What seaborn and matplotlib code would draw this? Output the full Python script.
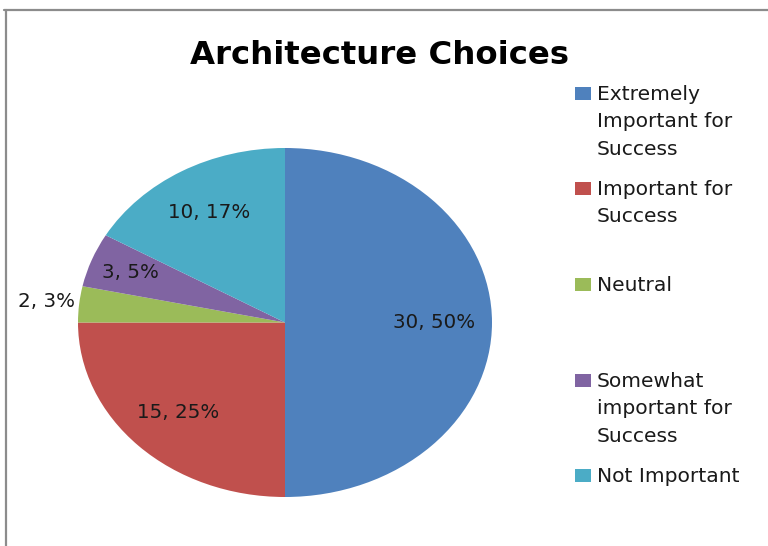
import numpy as np
import matplotlib
matplotlib.use("Agg")
import matplotlib.pyplot as plt
from matplotlib.lines import Line2D
from matplotlib.patches import Rectangle
import seaborn as sns

# Survey responses on architecture choices
categories = [
    "Extremely\nImportant for\nSuccess",
    "Important for\nSuccess",
    "Neutral",
    "Somewhat\nimportant for\nSuccess",
    "Not Important",
]
counts = [30, 15, 2, 3, 10]
colors = ["#4F81BD", "#C0504D", "#9BBB59", "#8064A2", "#4BACC6"]
# radial position of each value label (fraction of radius)
label_dist = [0.72, 0.73, 1.16, 0.80, 0.73]
# baseline of the first line of each legend entry, pixels from the top
legend_base = [100, 195, 291, 387, 482]

sns.set_theme(style="white")
plt.rcParams["font.family"] = ["DejaVu Sans"]

W, H = 768, 546
fig = plt.figure(figsize=(W / 100, H / 100), dpi=100)
fig.patch.set_facecolor("white")


def fy(px):
    """Convert a pixel row (from the top) to figure coordinates."""
    return 1 - px / H


# pie fills an ellipse: left 78, right 492, top 148, bottom 497 (pixels)
ax = fig.add_axes([78 / W, (H - 497) / H, 414 / W, 349 / H])
total = sum(counts)
wedges, _ = ax.pie(
    counts,
    colors=colors,
    startangle=90,
    counterclock=False,
    radius=1.0,
    wedgeprops=dict(linewidth=0),
)
ax.set_aspect("auto")
ax.set_xlim(-1, 1)
ax.set_ylim(-1, 1)
ax.axis("off")

for w, n, d in zip(wedges, counts, label_dist):
    mid = np.deg2rad((w.theta1 + w.theta2) / 2)
    pct = round(100 * n / total)
    ax.text(d * np.cos(mid), d * np.sin(mid), f"{n}, {pct}%",
            ha="center", va="center", fontsize=14.3, color="#1a1a1a",
            clip_on=False)

fig.text(380 / W, fy(64), "Architecture Choices", ha="center", va="baseline",
         fontsize=23.3, fontweight="bold", color="black")

# legend: colour square followed by its label, one text per line
for lab, c, yb in zip(categories, colors, legend_base):
    fig.add_artist(Rectangle((575 / W, fy(yb)), 16 / W, 13 / H,
                             transform=fig.transFigure, facecolor=c,
                             edgecolor="none"))
    for i, line in enumerate(lab.split("\n")):
        fig.text(597 / W, fy(yb + i * 27.3), line, ha="left", va="baseline",
                 fontsize=14.6, color="#1a1a1a")

# chart-area frame (top and left edges)
fig.add_artist(Line2D([4 / W, 1], [fy(9.5), fy(9.5)],
                      transform=fig.transFigure, color="#8c8c8c", lw=1.6))
fig.add_artist(Line2D([5.5 / W, 5.5 / W], [0, fy(9.5)],
                      transform=fig.transFigure, color="#8c8c8c", lw=1.6))

fig.savefig("out.png", dpi=100, facecolor="white")
